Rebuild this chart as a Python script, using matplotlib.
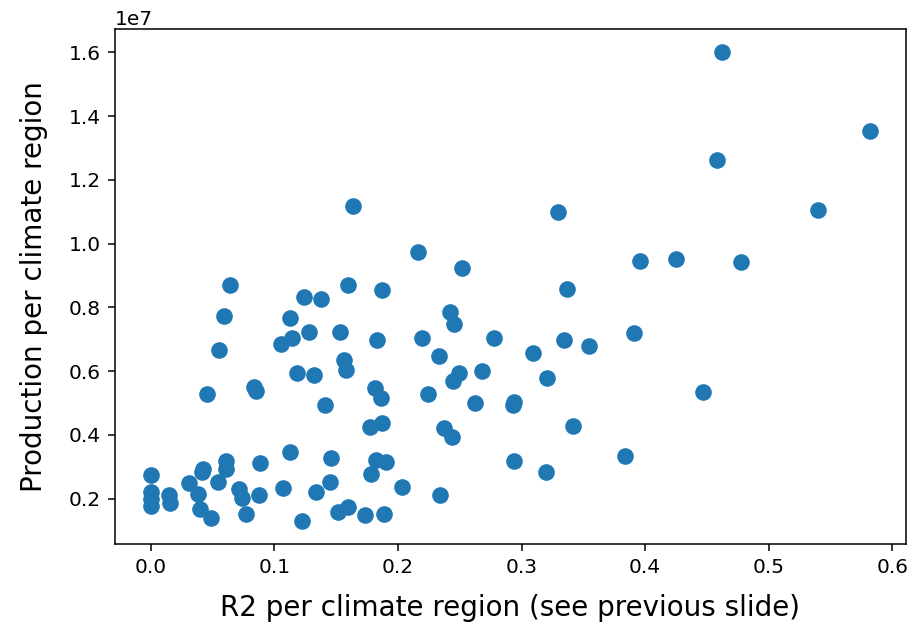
import numpy as np
import matplotlib
matplotlib.use("Agg")
import matplotlib.pyplot as plt

# R2 per climate region
r2 = [0.4625, 0.5821, 0.4579, 0.5400, 0.4250, 0.4777, 0.2161, 0.2517, 0.3295, 0.3961,
      0.1636, 0.0638, 0.1236, 0.1376, 0.1592, 0.1870, 0.0595, 0.1129, 0.0548, 0.1056,
      0.1138, 0.1280, 0.1530, 0.1827, 0.1560, 0.1576, 0.1186, 0.1319, 0.0452, 0.0835,
      0.0852, 0.1406, 0.1817, 0.1859, 0.1774, 0.1871, 0.1129, 0.1456, 0.1823, 0.1902,
      0.1783, 0.0, 0.0, 0.0, 0.0, 0.0143, 0.0156, 0.0307, 0.0424, 0.0412,
      0.0608, 0.0605, 0.0540, 0.0879, 0.0382, 0.0395, 0.0484, 0.0709, 0.0736, 0.0770,
      0.0874, 0.1066, 0.1219, 0.1334, 0.1446, 0.1511, 0.1592, 0.1729, 0.1889, 0.2031,
      0.3365, 0.2417, 0.2452, 0.2194, 0.2776, 0.3347, 0.3545, 0.3912, 0.2332, 0.3091,
      0.2490, 0.2447, 0.2683, 0.3208, 0.2245, 0.2621, 0.2939, 0.2933, 0.2373, 0.2441,
      0.3420, 0.3834, 0.2941, 0.3197, 0.2341, 0.4467]

# production per climate region (units of 1e7)
production = [1.600, 1.354, 1.263, 1.106, 0.951, 0.943, 0.973, 0.923, 1.098, 0.947,
              1.119, 0.869, 0.834, 0.827, 0.871, 0.855, 0.772, 0.766, 0.667, 0.686,
              0.703, 0.722, 0.722, 0.699, 0.636, 0.604, 0.593, 0.588, 0.527, 0.549,
              0.538, 0.494, 0.546, 0.517, 0.425, 0.438, 0.345, 0.328, 0.322, 0.316,
              0.278, 0.275, 0.221, 0.200, 0.178, 0.211, 0.187, 0.250, 0.293, 0.282,
              0.317, 0.294, 0.253, 0.312, 0.215, 0.167, 0.138, 0.229, 0.202, 0.151,
              0.211, 0.234, 0.131, 0.220, 0.252, 0.157, 0.173, 0.148, 0.153, 0.236,
              0.858, 0.786, 0.748, 0.703, 0.703, 0.699, 0.680, 0.719, 0.647, 0.657,
              0.593, 0.568, 0.599, 0.579, 0.527, 0.500, 0.503, 0.495, 0.421, 0.393,
              0.427, 0.334, 0.317, 0.284, 0.212, 0.534]

x = np.array(r2)
y = np.array(production) * 1e7

fig = plt.figure(figsize=(9.17, 6.3), dpi=100)
ax = fig.add_axes([0.1254, 0.1365, 0.8626, 0.8175])
ax.scatter(x, y, s=120, color='#1f77b4')

ax.set_xlabel('R2 per climate region (see previous slide)', fontsize=20, labelpad=12)
ax.set_ylabel('Production per climate region', fontsize=20, labelpad=15)
ax.tick_params(labelsize=14.5, length=5, width=1.1, pad=5)
ax.yaxis.get_offset_text().set_fontsize(14.5)
for s in ax.spines.values():
    s.set_linewidth(1.1)

fig.savefig('out.png', dpi=100)
